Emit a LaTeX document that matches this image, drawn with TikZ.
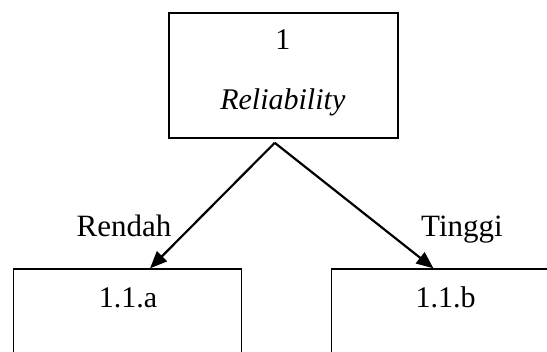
\documentclass[tikz,border=0pt]{standalone}
\usepackage{fontspec}
\setmainfont{Liberation Serif}
\usetikzlibrary{arrows.meta}
\begin{document}
\begin{tikzpicture}[x=1pt,y=-1pt,
  boxnode/.style={draw,line width=1.5pt,rectangle,inner sep=0pt,anchor=north west},
  txt/.style={inner sep=0pt,anchor=base,font=\fontsize{30}{36}\selectfont},
  lbl/.style={txt,font=\fontsize{31}{37}\selectfont},
  branch/.style={line width=2.2pt,-{Triangle[length=17pt,width=14pt]}}]
  \useasboundingbox (0,0) rectangle (547,352);
  \clip (0,0) rectangle (547,352);
  % decision node
  \node[boxnode,minimum width=229pt,minimum height=125pt] (root) at (168.3,12.3) {};
  \node[txt] (rootnum) at (282.8,50) {1};
  \node[txt] (roottitle) at (282.8,110) {\itshape Reliability};
  % outcome nodes (running past the lower and right edges)
  \node[boxnode,minimum width=228pt,minimum height=120pt] (lbox) at (12.7,268.3) {};
  \node[boxnode,minimum width=228pt,minimum height=120pt] (rbox) at (330.7,268.3) {};
  \node[txt] (lnum) at (128,308) {1.1.a};
  \node[txt] (rnum) at (445.5,308) {1.1.b};
  % branches
  \coordinate (peak) at ([xshift=-8.8pt,yshift=-4pt]root.south);
  \draw[branch] (peak) -- ([xshift=22.6pt]lbox.north);
  \draw[branch] (peak) -- ([xshift=-12pt]rbox.north);
  \node[lbl] (low) at (124,236.5) {Rendah};
  \node[lbl] (high) at (462,236.5) {Tinggi};
\end{tikzpicture}
\end{document}
